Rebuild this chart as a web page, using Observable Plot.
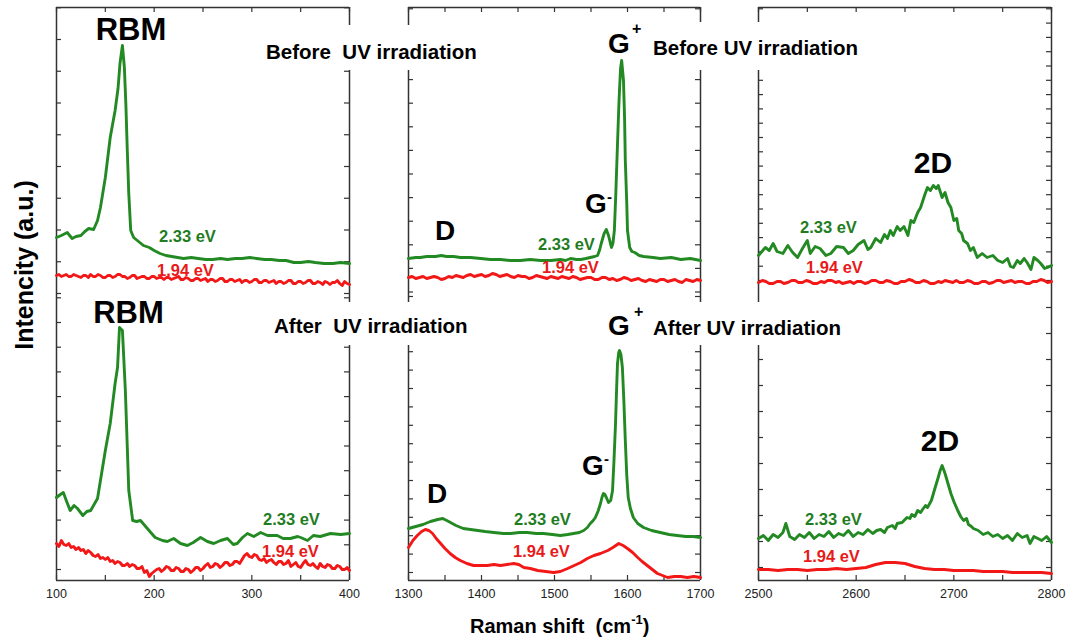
<!DOCTYPE html>
<html><head><meta charset="utf-8">
<script src="https://cdn.jsdelivr.net/npm/d3@7"></script>
<script src="https://cdn.jsdelivr.net/npm/@observablehq/plot@0.6"></script>
<style>
html,body{margin:0;padding:0;background:#fff;}
#chart{position:relative;width:1069px;height:639px;overflow:hidden;background:#fff;}
.panel{position:absolute;}
#overlay{position:absolute;left:0;top:0;z-index:5;}
</style></head><body><div id="chart"></div><script>
// ---------------- DATA (Raman shift cm-1, intensity a.u.) ----------------
// Before UV irradiation
const rbmBefore233 = [[100,56],[105,58],[111,61],[116,55],[120,57],[125,58],[129,62],[133,65],[138,64],[142,73],[145,86],[150,116],[155,156],[160,183],[163,205],[165,230],[167.5,248],[169.5,226],[171,190],[172.5,143],[174,100],[176,63],[179,56],[184,52],[189,48],[195,46],[200,43],[206,40],[212,38],[218,37],[224,36],[230,35],[238,36],[245,35],[253,34],[260,34],[268,35],[275,34],[283,35],[290,35],[298,36],[305,35],[313,34],[320,34],[328,33],[335,33],[343,31],[350,31],[358,32],[365,31],[374,30],[383,30],[391,31],[400,30]];
const rbmBefore194 = [[100,18],[102.5,19],[105,17],[107.5,18],[110,19],[112.5,17],[115,17],[117.5,19],[120,18],[122.5,17],[125,16],[127.5,18],[130,18],[132.5,16],[135,19],[137.5,17],[140,17],[142.5,19],[145,18],[147.5,16],[150,16],[152.5,18],[155,18],[157.5,16],[160,17],[162.5,19],[165,19],[167.5,17],[170,17],[172.5,15],[175,16],[177.5,18],[180,18],[182.5,15],[185,16],[187.5,17],[190,17],[192.5,15],[195,15],[197.5,17],[200,17],[202.5,15],[205,16],[207.5,16],[210,14],[212.5,16],[215,16],[217.5,14],[220,15],[222.5,16],[225,17],[227.5,14],[230,14],[232.5,16],[235,15],[237.5,13],[240,13],[242.5,15],[245,15],[247.5,13],[250,14],[252.5,15],[255,12],[257.5,14],[260,14],[262.5,12],[265,13],[267.5,15],[270,15],[272.5,12],[275,12],[277.5,14],[280,14],[282.5,12],[285,13],[287.5,14],[290,11],[292.5,13],[295,13],[297.5,11],[300,12],[302.5,14],[305,14],[307.5,11],[310,11],[312.5,13],[315,13],[317.5,11],[320,12],[322.5,13],[325,10],[327.5,12],[330,12],[332.5,10],[335,11],[337.5,13],[340,13],[342.5,10],[345,10],[347.5,12],[350,12],[352.5,10],[355,11],[357.5,13],[360,13],[362.5,10],[365,10],[367.5,12],[370,11],[372.5,9],[375,12],[377.5,11],[380,9],[382.5,11],[385,11],[387.5,13],[390,10],[392.5,8],[395,12],[397.5,10],[400,9]];
const gBefore233 = [[1300,35],[1310,36],[1316,36],[1325,37],[1337,37],[1345,38],[1352,37],[1362,37],[1371,36],[1385,36],[1399,35],[1412,34],[1426,34],[1440,33],[1453,33],[1467,34],[1481,33],[1495,33],[1508,34],[1515,33],[1522,35],[1530,34],[1536,34],[1543,35],[1549,36],[1555,37],[1559,38],[1562,44],[1564,50],[1568,60],[1571,64],[1574,58],[1578,46],[1580,50],[1582,63],[1584,100],[1586,143],[1588,185],[1589,203],[1590.5,225],[1592,233],[1594.5,213],[1596,175],[1597,133],[1599,90],[1600,63],[1603,46],[1606,42],[1610,41],[1616,38],[1622,37],[1635,36],[1645,35],[1660,36],[1673,34],[1686,35],[1700,33]];
const gBefore194 = [[1300,16],[1305,17],[1310,15],[1315,16],[1320,17],[1325,15],[1330,16],[1335,17],[1340,16],[1345,14],[1350,15],[1355,17],[1360,16],[1365,18],[1370,17],[1375,16],[1380,18],[1385,19],[1390,17],[1395,18],[1400,19],[1405,17],[1410,18],[1415,20],[1420,19],[1425,17],[1430,18],[1435,19],[1440,17],[1445,16],[1450,18],[1455,17],[1460,17],[1465,15],[1470,16],[1475,18],[1480,17],[1485,16],[1490,15],[1495,17],[1500,16],[1505,15],[1510,17],[1515,16],[1520,15],[1525,17],[1530,16],[1535,14],[1540,15],[1545,16],[1550,16],[1555,14],[1560,14],[1565,16],[1570,16],[1575,14],[1580,15],[1585,13],[1590,14],[1595,16],[1600,15],[1605,13],[1610,14],[1615,15],[1620,13],[1625,12],[1630,14],[1635,13],[1640,12],[1645,14],[1650,14],[1655,12],[1660,13],[1665,14],[1670,12],[1675,11],[1680,14],[1685,13],[1690,12],[1695,14],[1700,13]];
const dBefore233 = [[2500,38],[2507,46],[2511,43],[2515,50],[2519,42],[2525,40],[2530,48],[2535,41],[2540,36],[2545,45],[2550,53],[2553,40],[2558,47],[2563,45],[2569,38],[2574,40],[2580,47],[2587,46],[2592,40],[2597,43],[2602,49],[2608,53],[2612,44],[2615,46],[2620,55],[2625,51],[2629,59],[2632,55],[2635,63],[2638,58],[2642,67],[2645,63],[2649,67],[2653,58],[2656,73],[2659,71],[2663,81],[2666,86],[2670,98],[2673,106],[2676,103],[2679,108],[2682,105],[2684,108],[2688,96],[2691,101],[2694,91],[2697,86],[2700,73],[2703,75],[2705,63],[2708,60],[2710,53],[2714,50],[2717,43],[2720,46],[2724,36],[2729,40],[2734,36],[2740,38],[2745,33],[2750,31],[2755,35],[2758,27],[2761,26],[2765,33],[2768,30],[2772,35],[2775,31],[2779,24],[2782,36],[2786,33],[2789,30],[2793,25],[2796,26],[2800,28]];
const dBefore194 = [[2500,11],[2504,13],[2507.5,12],[2511,10],[2515,10],[2519,12],[2522.5,12],[2526,10],[2530,11],[2534,13],[2537.5,13],[2541,11],[2545,11],[2549,13],[2552.5,12],[2556,10],[2560,10],[2564,12],[2567.5,11],[2571,13],[2575,13],[2579,11],[2582.5,12],[2586,10],[2590,11],[2594,12],[2597.5,10],[2601,12],[2605,12],[2609,10],[2612.5,11],[2616,13],[2620,13],[2624,11],[2627.5,11],[2631,13],[2635,12],[2639,10],[2642.5,10],[2646,12],[2650,12],[2654,14],[2657.5,13],[2661,11],[2665,11],[2669,13],[2672.5,12],[2676,10],[2680,10],[2684,12],[2687.5,11],[2691,13],[2695,12],[2699,11],[2702.5,13],[2706,11],[2710,11],[2714,13],[2717.5,12],[2721,10],[2725,10],[2729,12],[2732.5,12],[2736,10],[2740,11],[2744,13],[2747.5,13],[2751,11],[2755,12],[2759,13],[2762.5,11],[2766,12],[2770,12],[2774,10],[2777.5,10],[2781,12],[2785,12],[2789,14],[2792.5,13],[2796,11],[2800,12]];
// After UV irradiation
const rbmAfter233 = [[100,83],[104,86],[107,88],[110,80],[114,70],[118,75],[121.5,72],[127,65],[131,69],[135,70],[142,82],[145,100],[150,130],[155,157],[160,197],[162.5,213],[164.5,253],[167.5,250],[170.5,190],[174,90],[178,60],[182,59],[186,60],[193,52],[201,43],[208.5,40],[213.5,39],[220,42],[227,37],[234,35],[240,38],[247.5,43],[254.5,39],[261,37],[268,40],[275,42],[281,36],[285,37],[290.5,43],[295.5,47],[302,44],[309,48],[316,45],[326,45],[332,42],[339.5,42],[347,44],[350,43],[357,40],[363,45],[370,44],[380.5,47],[391,46],[400,47]];
const rbmAfter194 = [[100,37],[102.5,34],[105,40],[107.5,36],[110,35],[112.5,37],[115,33],[117.5,34],[120,31],[122.5,33],[125,30],[127.5,31],[130,27],[132.5,30],[135,28],[137.5,25],[140,24],[142.5,26],[145,22],[147.5,23],[150,21],[152.5,23],[155,19],[157.5,20],[160,17],[162.5,19],[165,18],[167.5,15],[170,15],[172.5,17],[175,14],[177.5,16],[180,15],[182.5,12],[185,12],[187.5,14],[190,8],[192.5,10],[195,4],[197.5,7],[200,9],[202.5,11],[205,12],[207.5,9],[210,11],[212.5,14],[215,13],[217.5,10],[220,10],[222.5,13],[225,12],[227.5,9],[230,9],[232.5,12],[235,11],[237.5,8],[240,10],[242.5,13],[245,13],[247.5,10],[250,12],[252.5,15],[255,17],[257.5,13],[260,14],[262.5,17],[265,16],[267.5,13],[270,15],[272.5,18],[275,18],[277.5,15],[280,16],[282.5,19],[285,19],[287.5,17],[290,21],[292.5,25],[295,27],[297.5,24],[300,23],[302.5,26],[305,25],[307.5,21],[310,20],[312.5,22],[315,18],[317.5,20],[320,21],[322.5,18],[325,16],[327.5,19],[330,19],[332.5,16],[335,17],[337.5,20],[340,14],[342.5,16],[345,18],[347.5,14],[350,13],[352.5,17],[355,20],[357.5,16],[360,15],[362.5,17],[365,14],[367.5,12],[370,17],[372.5,14],[375,13],[377.5,16],[380,15],[382.5,12],[385,12],[387.5,15],[390,14],[392.5,11],[395,11],[397.5,13],[400,10]];
const gAfter233 = [[1300,52],[1310,54],[1320,56],[1330,59],[1340,61],[1347,62],[1355,59],[1365,55],[1375,52],[1385,51],[1395,50],[1405,49],[1417,48],[1430,47],[1440,47],[1452,48],[1463,48],[1475,47],[1485,47],[1497,46],[1508,45],[1518,46],[1526,47],[1534,48],[1540,50],[1545,53],[1549,57],[1553,60],[1556,63],[1560,70],[1563,77],[1565,83],[1567,87],[1569,86],[1571,83],[1574,78],[1577,80],[1579.5,90],[1581.5,120],[1583.6,157],[1585,190],[1586.3,217],[1588,228],[1589,230],[1591,226],[1593,213],[1595,180],[1597,140],[1599,105],[1601,83],[1604,72],[1608,63],[1614,57],[1622,53],[1633,50],[1645,48],[1657,46],[1668,45],[1680,44],[1690,44],[1700,43]];
const gAfter194 = [[1300,33],[1306,40],[1312,45],[1318,49],[1323,51],[1328,50],[1333,47],[1338,42],[1344,37],[1350,32],[1357,27],[1364,23],[1371,20],[1380,17],[1389,15],[1398,15],[1408,15],[1417,16],[1426,15],[1435,16],[1444,17],[1451,16],[1458,13],[1467,12],[1477,10],[1488,9],[1499,8],[1508,9],[1518,12],[1527,15],[1536,18],[1545,22],[1554,25],[1563,27],[1573,30],[1580,33],[1588,37],[1594,35],[1600,32],[1607,28],[1614,23],[1620,19],[1627,15],[1634,11],[1641,7],[1648,5],[1655,3],[1664,4],[1673,4],[1682,3],[1691,4],[1700,3]];
const dAfter233 = [[2500,42],[2505,45],[2510,40],[2515,46],[2520,43],[2525,48],[2528,57],[2532,44],[2537,41],[2542,46],[2547,43],[2552,48],[2557,42],[2562,46],[2567,44],[2572,49],[2577,43],[2582,47],[2587,45],[2592,50],[2597,44],[2602,48],[2607,46],[2612,51],[2617,47],[2621,50],[2625,51],[2629,48],[2632,53],[2637,55],[2640,52],[2642,57],[2647,58],[2650,61],[2652,63],[2655,62],[2657,66],[2660,64],[2663,70],[2666,68],[2668,71],[2671,75],[2673,73],[2677,80],[2680,90],[2684,103],[2686,110],[2688,115],[2691,107],[2694,97],[2697,87],[2700,79],[2704,70],[2707,64],[2710,60],[2713,62],[2715,56],[2718,54],[2720,52],[2725,50],[2730,46],[2735,48],[2740,44],[2745,46],[2750,42],[2755,45],[2760,40],[2765,47],[2770,43],[2775,45],[2778,37],[2782,44],[2786,42],[2790,40],[2795,44],[2800,38]];
const dAfter194 = [[2500,11],[2510,11],[2520,10],[2530,11],[2540,11],[2550,10],[2560,11],[2570,11],[2580,12],[2590,11],[2600,12],[2610,13],[2620,16],[2630,18],[2640,18],[2650,17],[2660,14],[2670,12],[2680,11],[2690,11],[2700,10],[2710,10],[2720,10],[2730,9],[2740,9],[2750,9],[2760,8],[2770,8],[2780,8],[2790,8],[2800,7]];

const xLabelsRBM = [100, 200, 300, 400];
const xLabelsG = [1300, 1400, 1500, 1600, 1700];
const xLabels2D = [2500, 2600, 2700, 2800];
const seriesNames = ["2.33 eV", "1.94 eV"];

// ---------------- STYLE / LAYOUT ----------------
const GREEN = "#238a23", RED = "#f21818", FRAME = "#333";
const GREEN_T = "#1f7d1f", RED_T = "#e81a1a";
const FONT = "'Liberation Sans', Arial, Helvetica, sans-serif";

const cols = [
  {left: 56, w: 293, x0: 100, x1: 400, labels: xLabelsRBM},
  {left: 408, w: 292, x0: 1300, x1: 1700, labels: xLabelsG},
  {left: 758, w: 293, x0: 2500, x1: 2800, labels: xLabels2D}
];
const rows = [{top: 7, h: 286}, {top: 293, h: 287}];
const panels = [
  {r: 0, c: 0, s: [rbmBefore233, rbmBefore194], t0: 0, ts: 31.75},
  {r: 0, c: 1, s: [gBefore233, gBefore194], t0: 1.5, ts: 23.6},
  {r: 0, c: 2, s: [dBefore233, dBefore194], t0: 13, ts: 14.3},
  {r: 1, c: 0, s: [rbmAfter233, rbmAfter194], t0: 11, ts: 24.7},
  {r: 1, c: 1, s: [gAfter233, gAfter194], t0: 8, ts: 18.4},
  {r: 1, c: 2, s: [dAfter233, dAfter194], t0: 13, ts: 26}
];

const chart = document.getElementById("chart");
const M = 3;
panels.forEach(p => {
  const col = cols[p.c], row = rows[p.r];
  const mB = p.r === 1 ? 30 : M;
  const yTicks = d3.range(p.t0, row.h + 0.5, p.ts);
  const xTicks = d3.range(col.x0, col.x1 + 1, 50);
  const data = p.s.flatMap((arr, i) => arr.map(([x, y]) => ({x, y, series: seriesNames[i]})));
  const marks = [
    Plot.ruleX([col.x0, col.x1], {stroke: FRAME, strokeWidth: 1.5}),
    Plot.ruleY([p.r === 0 ? row.h : 0], {stroke: FRAME, strokeWidth: 1.5}),
    Plot.tickY(yTicks, {y: d => d, insetRight: col.w - 5, stroke: FRAME, strokeWidth: 1.2}),
    Plot.tickY(yTicks, {y: d => d, insetLeft: col.w - 5, stroke: FRAME, strokeWidth: 1.2}),
    Plot.tickX(xTicks, p.r === 0
      ? {x: d => d, insetBottom: row.h - 5, stroke: FRAME, strokeWidth: 1.2}
      : {x: d => d, insetTop: row.h - 5, stroke: FRAME, strokeWidth: 1.2}),
    Plot.line(data, {x: "x", y: "y", z: "series",
      stroke: d => d.series === "2.33 eV" ? GREEN : RED, strokeWidth: 2.9, strokeLinejoin: "round"})
  ];
  if (p.r === 1) {
    marks.push(Plot.axisX({anchor: "bottom", ticks: col.labels, tickSize: 0, tickPadding: 9,
      label: null, tickFormat: d => String(d), fill: "#222"}));
  }
  const plot = Plot.plot({
    width: col.w + 2 * M, height: row.h + M + mB,
    marginLeft: M, marginRight: M, marginTop: M, marginBottom: mB,
    x: {domain: [col.x0, col.x1], axis: null},
    y: {domain: [0, row.h], axis: null},
    style: {fontFamily: FONT, fontSize: "12.5px", background: "transparent", overflow: "visible", color: "#222"},
    marks
  });
  const div = document.createElement("div");
  div.className = "panel";
  div.style.left = (col.left - M) + "px";
  div.style.top = (row.top - M) + "px";
  div.style.width = (col.w + 2 * M) + "px";
  div.appendChild(plot);
  chart.appendChild(div);
});

// ---------------- ANNOTATIONS ----------------
const svg = d3.select("#chart").append("svg").attr("id", "overlay")
  .attr("width", 1069).attr("height", 639)
  .style("font-family", FONT).style("font-weight", "bold");

const boxes = [[262, 25, 216, 45], [648, 22, 218, 48], [270, 302, 205, 43], [648, 302, 200, 43]];
boxes.forEach(([x, y, w, h]) => svg.append("rect").attr("x", x).attr("y", y).attr("width", w).attr("height", h).attr("fill", "#fff"));

const labels = [
  {t: "RBM", x: 131, y: 40, s: 31, a: "middle"},
  {t: "RBM", x: 128.5, y: 323, s: 31, a: "middle"},
  {t: "Before  UV irradiation", x: 266, y: 59, s: 20.5},
  {t: "Before UV irradiation", x: 653, y: 55, s: 20.5},
  {t: "After  UV irradiation", x: 274, y: 333, s: 20.5},
  {t: "After UV irradiation", x: 653, y: 335, s: 20.5},
  {t: "G", x: 608, y: 53, s: 28}, {t: "+", x: 632, y: 34, s: 16},
  {t: "G", x: 585, y: 213, s: 28}, {t: "-", x: 607, y: 202, s: 15},
  {t: "D", x: 445, y: 240, s: 28, a: "middle"},
  {t: "2D", x: 933, y: 173, s: 30, a: "middle"},
  {t: "G", x: 608, y: 335, s: 28}, {t: "+", x: 634, y: 317, s: 16},
  {t: "G", x: 582, y: 475, s: 28}, {t: "-", x: 604, y: 464, s: 15},
  {t: "D", x: 437, y: 503, s: 28, a: "middle"},
  {t: "2D", x: 940, y: 451, s: 30, a: "middle"},
  {t: "2.33 eV", x: 159, y: 242, s: 16.5, f: GREEN_T},
  {t: "1.94 eV", x: 157, y: 276, s: 16.5, f: RED_T},
  {t: "2.33 eV", x: 538, y: 250, s: 16.5, f: GREEN_T},
  {t: "1.94 eV", x: 542, y: 273, s: 16.5, f: RED_T},
  {t: "2.33 eV", x: 800, y: 233, s: 16.5, f: GREEN_T},
  {t: "1.94 eV", x: 806, y: 273, s: 16.5, f: RED_T},
  {t: "2.33 eV", x: 263, y: 525, s: 16.5, f: GREEN_T},
  {t: "1.94 eV", x: 262, y: 557, s: 16.5, f: RED_T},
  {t: "2.33 eV", x: 514, y: 525, s: 16.5, f: GREEN_T},
  {t: "1.94 eV", x: 513, y: 557, s: 16.5, f: RED_T},
  {t: "2.33 eV", x: 805, y: 525, s: 16.5, f: GREEN_T},
  {t: "1.94 eV", x: 803, y: 562, s: 16.5, f: RED_T}
];
labels.forEach(l => svg.append("text").attr("x", l.x).attr("y", l.y)
  .attr("font-size", l.s).attr("fill", l.f || "#000").attr("text-anchor", l.a || "start")
  .style("white-space", "pre").text(l.t));

// axis titles
const xt = svg.append("text").attr("x", 470).attr("y", 633).attr("font-size", 20).style("white-space", "pre");
xt.append("tspan").text("Raman shift  (cm");
xt.append("tspan").attr("font-size", 13).attr("dy", -9).text("-1");
xt.append("tspan").attr("dy", 9).text(")");
svg.append("text").attr("transform", "translate(33,265) rotate(-90)")
  .attr("text-anchor", "middle").attr("font-size", 25).text("Intencity (a.u.)");
</script></body></html>
